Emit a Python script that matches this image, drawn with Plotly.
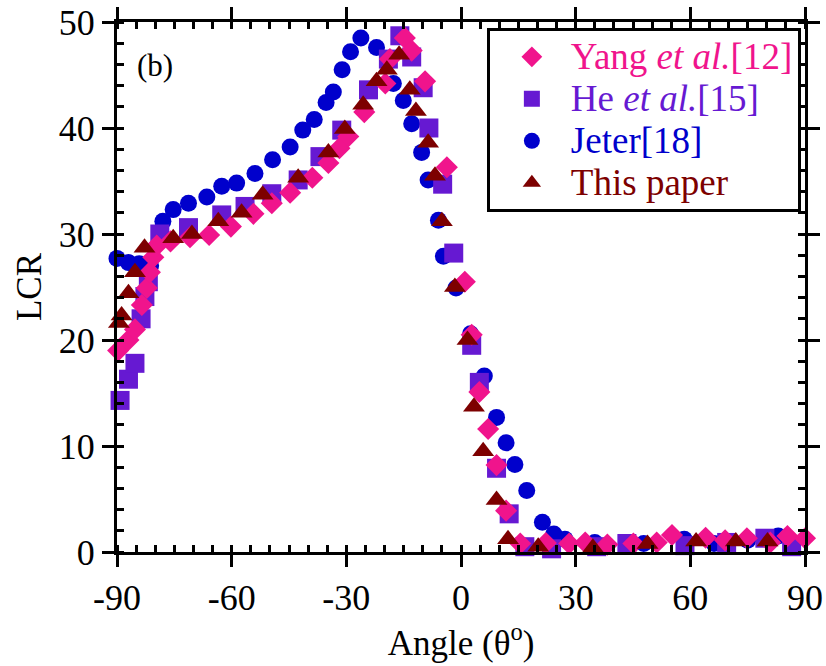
import plotly.graph_objects as go

# ---------------- data ----------------
yang_x = [-89.7, -87.0, -85.3, -83.5, -82.2, -81.4, -80.5, -79.6, -76.0, -70.9, -65.9, -60.2,
          -54.3, -49.5, -44.7, -38.9, -34.7, -31.8, -29.5, -25.3, -19.8, -18.6, -14.7, -12.9,
          -9.4, -3.7, 1.0, 2.8, 4.8, 7.1, 9.3, 11.8, 15.5, 22.2, 28.3, 32.5, 38.3, 45.1,
          51.2, 55.2, 64.0, 69.1, 74.8, 80.9, 85.4, 90.0]
yang_y = [19.0, 20.0, 21.0, 23.3, 24.9, 26.4, 27.8, 28.9, 29.3, 29.7, 29.9, 30.7,
          31.9, 32.9, 33.9, 35.3, 36.7, 38.1, 39.2, 41.5, 44.2, 46.5, 48.5, 47.3,
          44.4, 36.3, 25.5, 20.5, 15.1, 11.6, 8.2, 3.9, 0.8, 0.85, 0.8, 0.9, 0.7, 0.8,
          0.9, 1.6, 1.35, 1.1, 1.3, 0.9, 1.5, 1.3]

he_x = [-89.2, -87.0, -85.3, -83.7, -82.7, -81.8, -78.8, -71.3, -62.6, -56.5, -49.5, -42.6,
        -36.9, -31.2, -24.2, -19.0, -16.0, -12.9, -9.9, -8.4, -4.8, -1.9, 2.8, 4.8, 9.3,
        12.6, 16.7, 23.7, 35.5, 43.4, 58.6, 69.5, 79.5, 86.5]
he_y = [14.3, 16.3, 17.8, 22.0, 24.1, 25.5, 30.0, 30.6, 31.8, 32.6, 33.8, 35.1,
        37.3, 39.8, 43.6, 46.5, 48.7, 46.7, 43.8, 40.0, 34.7, 28.2, 19.5, 16.0, 7.9,
        3.6, 0.5, 0.3, 0.5, 0.8, 0.6, 0.9, 1.3, 0.5]

jeter_x = [-90.0, -87.0, -84.2, -81.2, -78.0, -75.3, -71.3, -66.5, -62.6, -58.7, -53.9, -49.3,
           -44.7, -41.4, -38.4, -35.3, -33.4, -31.1, -28.9, -26.2, -22.1, -17.7, -15.1, -12.9,
           -10.3, -8.6, -5.9, -4.6, -1.3, 2.5, 6.1, 9.3, 11.8, 14.1, 17.2, 21.3, 24.3, 27.2,
           35.0, 47.8, 58.4, 66.2, 75.0, 83.0]
jeter_y = [27.7, 27.3, 27.2, 27.0, 31.2, 32.3, 32.9, 33.5, 34.5, 34.8, 35.7, 37.0,
           38.2, 39.8, 40.8, 42.4, 43.4, 45.5, 47.2, 48.5, 47.6, 44.2, 42.6, 40.4,
           37.7, 35.1, 31.3, 27.9, 24.9, 20.6, 16.6, 12.7, 10.3, 8.25, 5.8, 2.8, 1.7, 1.2,
           0.9, 0.8, 1.2, 0.8, 1.1, 1.5]

paper_x = [-89.5, -88.8, -87.0, -85.3, -82.8, -75.3, -70.4, -63.5, -57.4, -51.9, -42.6, -34.7,
           -30.4, -25.6, -22.1, -19.4, -16.2, -13.4, -11.8, -8.6, -6.8, -5.0, -1.6, 1.7, 3.4,
           5.8, 9.3, 12.3, 20.2, 34.5, 48.8, 61.5, 71.9, 80.2]
paper_y = [21.6, 22.3, 24.4, 26.4, 28.7, 29.6, 30.0, 31.2, 32.0, 33.7, 35.3, 37.7,
           39.9, 42.2, 44.4, 45.5, 46.9, 43.6, 41.6, 38.6, 35.5, 31.2, 25.0, 20.0, 13.7,
           9.5, 4.9, 1.2, 0.5, 0.4, 0.75, 1.0, 1.0, 1.0]

x_label_ticks = [-90, -60, -30, 0, 30, 60, 90]
x_label_text = ["-90", "-60", "-30", "0", "30", "60", "90"]
x_unlabeled_ticks = [-75, -45, -15, 15, 45, 75]
y_tickvals = [0, 10, 20, 30, 40, 50]
y_ticktext = ["0", "10", "20", "30", "40", "50"]

PINK = "#f0148c"
PURPLE = "#6619d2"
BLUE = "#0000cc"
MAROON = "#7d0000"
FONT = "Liberation Serif, Times New Roman, serif"
LEG_SIZE = 37

def leg_name(txt, color):
    return "<span style='color:%s;font-size:%dpx'>%s</span>" % (color, LEG_SIZE, txt)

fig = go.Figure()
fig.add_trace(go.Scatter(x=jeter_x, y=jeter_y, mode="markers", legendrank=3,
                         name=leg_name("Jeter[18]", BLUE),
                         marker=dict(symbol="circle", size=17, color=BLUE), cliponaxis=False))
fig.add_trace(go.Scatter(x=he_x, y=he_y, mode="markers", legendrank=2,
                         name=leg_name("He <i>et al.</i>[15]", PURPLE),
                         marker=dict(symbol="square", size=19, color=PURPLE), cliponaxis=False))
fig.add_trace(go.Scatter(x=yang_x, y=yang_y, mode="markers", legendrank=1,
                         name=leg_name("Yang <i>et al.</i>[12]", PINK),
                         marker=dict(symbol="diamond", size=17, color=PINK), cliponaxis=False))
fig.add_trace(go.Scatter(x=paper_x, y=paper_y, mode="markers", legendrank=4,
                         name=leg_name("This paper", MAROON),
                         marker=dict(symbol="triangle-up", size=19, color=MAROON), cliponaxis=False))

axis_common = dict(showline=True, linewidth=3, linecolor="black", mirror="ticks",
                   ticks="outside", ticklen=12, tickwidth=3, tickcolor="black",
                   showgrid=False, zeroline=False, automargin=False,
                   tickfont=dict(family=FONT, size=36, color="black"))

fig.update_xaxes(range=[-90, 90], tickmode="array", tickvals=x_label_ticks, ticktext=x_label_text,
                 minor=dict(dtick=5, ticks="inside", ticklen=7, tickwidth=3, tickcolor="black"),
                 title=dict(text="Angle (θ<sup>o</sup>)", font=dict(family=FONT, size=35, color="black"),
                            standoff=0),
                 **axis_common)
fig.update_yaxes(range=[0, 50], tickmode="array", tickvals=y_tickvals, ticktext=y_ticktext,
                 minor=dict(dtick=2, ticks="inside", ticklen=7, tickwidth=3, tickcolor="black"),
                 title=dict(text="LCR", font=dict(family=FONT, size=35, color="black"), standoff=7),
                 **axis_common)

# extra outside ticks every 15 degrees without labels
fig.update_layout(xaxis2=dict(overlaying="x", anchor="y", side="bottom", range=[-90, 90],
                              tickmode="array", tickvals=x_unlabeled_ticks, showticklabels=False,
                              ticks="outside", ticklen=12, tickwidth=3, tickcolor="black",
                              showline=False, mirror="ticks", showgrid=False, zeroline=False,
                              automargin=False))

fig.add_annotation(x=0.055, y=0.917, xref="paper", yref="paper", xanchor="center", yanchor="middle",
                   text="(b)", showarrow=False,
                   font=dict(family=FONT, size=31, color="black"))

fig.update_layout(
    width=826, height=666,
    margin=dict(l=117, r=21, t=22, b=114),
    paper_bgcolor="white", plot_bgcolor="white",
    font=dict(family=FONT, color="black"),
    legend=dict(x=0.994, y=0.989, xanchor="right", yanchor="top",
                bgcolor="white", bordercolor="black", borderwidth=3,
                font=dict(family=FONT, size=30), tracegroupgap=0,
                itemwidth=68, indentation=3),
)

fig.write_html("out.html")
